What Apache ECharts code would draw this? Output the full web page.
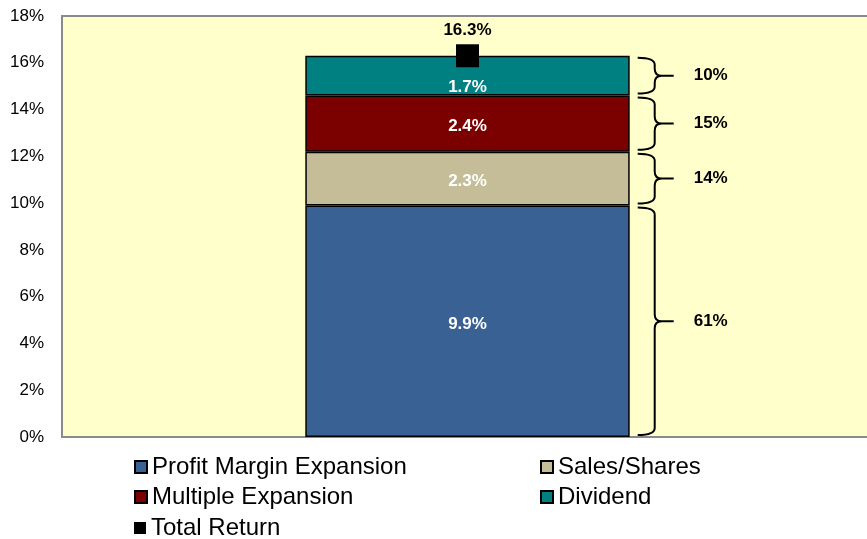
<!DOCTYPE html>
<html><head><meta charset="utf-8">
<script src="https://cdn.jsdelivr.net/npm/echarts@6/dist/echarts.min.js"></script>
<style>html,body{margin:0;padding:0;background:#fff}#c{width:867px;height:539px}</style>
</head><body><div id="c"></div>
<script>
const categories = [''];
const profitMargin = [9.9];
const salesShares = [2.3];
const multipleExp = [2.4];
const dividend = [1.7];
const totalReturn = [16.3];
const shareLabels = ['61%', '14%', '15%', '10%'];
const yMin = 0, yMax = 18, yStep = 2;

const segs = [profitMargin[0], salesShares[0], multipleExp[0], dividend[0]];
const braceData = [];
let acc = 0;
segs.forEach((v, i) => { braceData.push([0, acc, acc + v, shareLabels[i]]); acc += v; });

const F = 'Liberation Sans, Arial, sans-serif';
const barLabel = { show: true, position: 'inside', color: '#fff', fontWeight: 'bold', fontSize: 17, fontFamily: F, offset: [0, 3], formatter: p => p.value.toFixed(1) + '%' };
const barStyle = c => ({ color: c, borderColor: '#000', borderWidth: 1.5 });
const legendText = { fontSize: 24, fontFamily: F, color: '#000', lineHeight: 24, padding: [0, 0, 0, 0] };
const leg = (name, left, top) => ({ left, top, padding: 0, itemWidth: 12, itemHeight: 12, itemGap: 4, icon: 'rect', textStyle: legendText, data: [name] });

const chart = echarts.init(document.getElementById('c'));
chart.setOption({
  animation: false,
  grid: { left: 62, width: 811, top: 16, height: 421, outerBoundsMode: 'none', show: true, backgroundColor: '#FFFFCC', borderColor: '#8a8a8a', borderWidth: 2 },
  xAxis: { type: 'category', data: categories, axisLine: { show: false }, axisTick: { show: false }, axisLabel: { show: false } },
  yAxis: { type: 'value', min: yMin, max: yMax, interval: yStep, axisLine: { show: false }, axisTick: { show: false }, splitLine: { show: false },
    axisLabel: { formatter: '{value}%', color: '#000', fontSize: 17, fontFamily: F, margin: 18 } },
  legend: [
    leg('Profit Margin Expansion', 134, 455),
    leg('Multiple Expansion', 134, 485),
    leg('Total Return', 134, 516),
    leg('Sales/Shares', 540, 455),
    leg('Dividend', 540, 485)
  ],
  series: [
    { name: 'Profit Margin Expansion', type: 'bar', stack: 's', barWidth: '40%', data: profitMargin, itemStyle: barStyle('#3A6194'), label: barLabel },
    { name: 'Sales/Shares', type: 'bar', stack: 's', data: salesShares, itemStyle: barStyle('#C4BD97'), label: barLabel },
    { name: 'Multiple Expansion', type: 'bar', stack: 's', data: multipleExp, itemStyle: barStyle('#7B0000'), label: barLabel },
    { name: 'Dividend', type: 'bar', stack: 's', data: dividend, itemStyle: barStyle('#008080'), label: Object.assign({}, barLabel, { offset: [0, 12] }) },
    { name: 'Total Return', type: 'scatter', symbol: 'rect', symbolSize: 23, data: totalReturn, z: 5,
      itemStyle: { color: '#000', opacity: 1 },
      label: { show: true, position: 'top', distance: 5, color: '#000', fontWeight: 'bold', fontSize: 17, fontFamily: F, formatter: p => p.value.toFixed(1) + '%' } },
    { name: 'braces', type: 'custom', data: braceData, z: 6, silent: true,
      renderItem: (params, api) => {
        const band = api.size([1, 0])[0];
        const c0 = api.coord([api.value(0), api.value(1)]);
        const c1 = api.coord([api.value(0), api.value(2)]);
        const x0 = c0[0] + band * 0.2 + 8;
        const x1 = x0 + 17, x2 = x0 + 36, r = 7;
        const bot = c0[1] - 2, top = c1[1] + 2, mid = (top + bot) / 2;
        const d = `M${x0},${top} Q${x1},${top} ${x1},${top + r} L${x1},${mid - r} Q${x1},${mid} ${x1 + r},${mid} L${x2},${mid} M${x1 + r},${mid} Q${x1},${mid} ${x1},${mid + r} L${x1},${bot - r} Q${x1},${bot} ${x0},${bot}`;
        return { type: 'group', children: [
          { type: 'path', shape: { pathData: d }, style: { fill: null, stroke: '#000', lineWidth: 2 } },
          { type: 'text', x: x2 + 20, y: mid, style: { text: api.value(3), fill: '#000', font: 'bold 17px ' + F, verticalAlign: 'middle', align: 'left' } }
        ] };
      } }
  ]
});
</script></body></html>
